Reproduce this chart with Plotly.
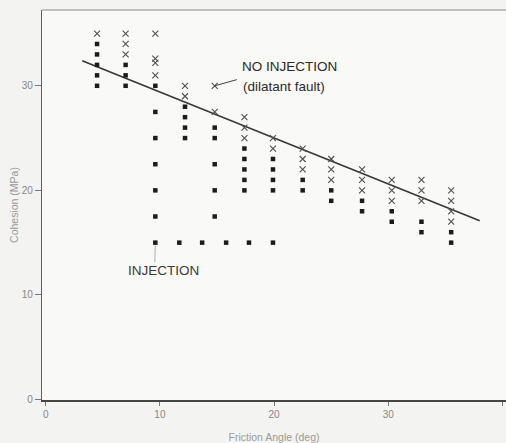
import plotly.graph_objects as go

# Injection (filled squares)
inj_x = [4.5, 4.5, 4.5, 4.5, 4.5,
         7.0, 7.0, 7.0,
         9.6, 9.6, 9.6, 9.6, 9.6, 9.6, 9.6,
         12.2, 12.2, 12.2, 12.2,
         14.8, 14.8, 14.8, 14.8, 14.8,
         17.4, 17.4, 17.4, 17.4, 17.4,
         19.9, 19.9, 19.9, 19.9, 19.9,
         22.5, 22.5,
         25.0, 25.0,
         27.7, 27.7,
         30.3, 30.3,
         32.9, 32.9,
         35.5, 35.5,
         11.7, 13.7, 15.8, 17.8]
inj_y = [34, 33, 32, 31, 30,
         32, 31, 30,
         30, 27.5, 25, 22.5, 20, 17.5, 15,
         28, 27, 26, 25,
         26, 25, 22.5, 20, 17.5,
         24, 23, 22, 21, 20,
         23, 22, 21, 20, 15,
         21, 20,
         20, 19,
         19, 18,
         18, 17,
         17, 16,
         16, 15,
         15, 15, 15, 15]

# No injection (crosses)
noinj_x = [4.5,
           7.0, 7.0, 7.0,
           9.6, 9.6, 9.6, 9.6,
           12.2, 12.2,
           14.8, 14.8,
           17.4, 17.4, 17.4,
           19.9, 19.9,
           22.5, 22.5, 22.5,
           25.0, 25.0, 25.0,
           27.7, 27.7, 27.7,
           30.3, 30.3, 30.3,
           32.9, 32.9, 32.9,
           35.5, 35.5, 35.5, 35.5]
noinj_y = [35,
           35, 34, 33,
           35, 32.6, 32.2, 31,
           30, 29,
           30, 27.5,
           27, 26, 25,
           25, 24,
           24, 23, 22,
           23, 22, 21,
           22, 21, 20,
           21, 20, 19,
           21, 20, 19,
           20, 19, 18, 17]

# Boundary line
line_x = [3.2, 38.0]
line_y = [32.4, 17.1]

x_ticks = [0, 10, 20, 30, 40]
y_ticks = [0, 10, 20, 30]

FONT = "Liberation Sans, Arial, sans-serif"

fig = go.Figure()
fig.add_trace(go.Scatter(x=line_x, y=line_y, mode="lines",
                         line=dict(color="#383838", width=1.6), hoverinfo="skip"))
fig.add_trace(go.Scatter(x=inj_x, y=inj_y, mode="markers",
                         marker=dict(symbol="square", size=4.5, color="#1c1c1c")))
fig.add_trace(go.Scatter(x=noinj_x, y=noinj_y, mode="markers",
                         marker=dict(symbol="x-thin", size=6,
                                     line=dict(width=1.1, color="#505050"))))

fig.update_layout(
    width=506, height=443,
    margin=dict(l=42, r=0, t=10, b=43, autoexpand=False),
    showlegend=False,
    paper_bgcolor="#f3f3f1",
    plot_bgcolor="#f9f9f7",
    font=dict(family=FONT),
    xaxis=dict(range=[-0.32, 40.3], tickvals=x_ticks, ticks="outside", ticklen=4,
               tickcolor="#777", tickfont=dict(size=10, color="#888"),
               showline=True, linecolor="#454545", linewidth=1.5,
               showgrid=False, zeroline=False, automargin=False,
               title=dict(text="Friction Angle (deg)", font=dict(size=10.5, color="#9a9a9a"),
                          standoff=15)),
    yaxis=dict(range=[-0.05, 37.25], tickvals=y_ticks, ticks="outside", ticklen=6,
               tickcolor="#777", tickfont=dict(size=10, color="#888"),
               showline=True, linecolor="#606060", linewidth=1.3,
               showgrid=False, zeroline=False, automargin=False,
               title=dict(text="Cohesion (MPa)", font=dict(size=10.5, color="#9a9a9a"),
                          standoff=1)),
    shapes=[dict(type="line", xref="paper", yref="paper", x0=0, x1=1, y0=1, y1=1,
                 line=dict(color="#8a8a8a", width=1.2))],
    annotations=[
        dict(x=14.8, y=30, ax=16.87, ay=30.63, axref="x", ayref="y", text="",
             showarrow=True, arrowhead=0, arrowwidth=1, arrowcolor="#444", standoff=0),
        dict(x=17.0, y=31.8, text="NO INJECTION", showarrow=False, xanchor="left",
             font=dict(size=13.5, color="#2a2a2a")),
        dict(x=17.1, y=29.9, text="(dilatant fault)", showarrow=False, xanchor="left",
             font=dict(size=13.5, color="#2a2a2a")),
        dict(x=9.6, y=15, ax=9.55, ay=13.0, axref="x", ayref="y", text="",
             showarrow=True, arrowhead=0, arrowwidth=0.8, arrowcolor="#999", standoff=3),
        dict(x=10.3, y=12.3, text="INJECTION", showarrow=False,
             font=dict(size=13.5, color="#3a3a3a")),
    ],
)

fig.write_html(
    "out.html",
    config={"displayModeBar": False},
    post_script="document.body.style.margin='0';document.body.style.overflow='hidden';",
)
